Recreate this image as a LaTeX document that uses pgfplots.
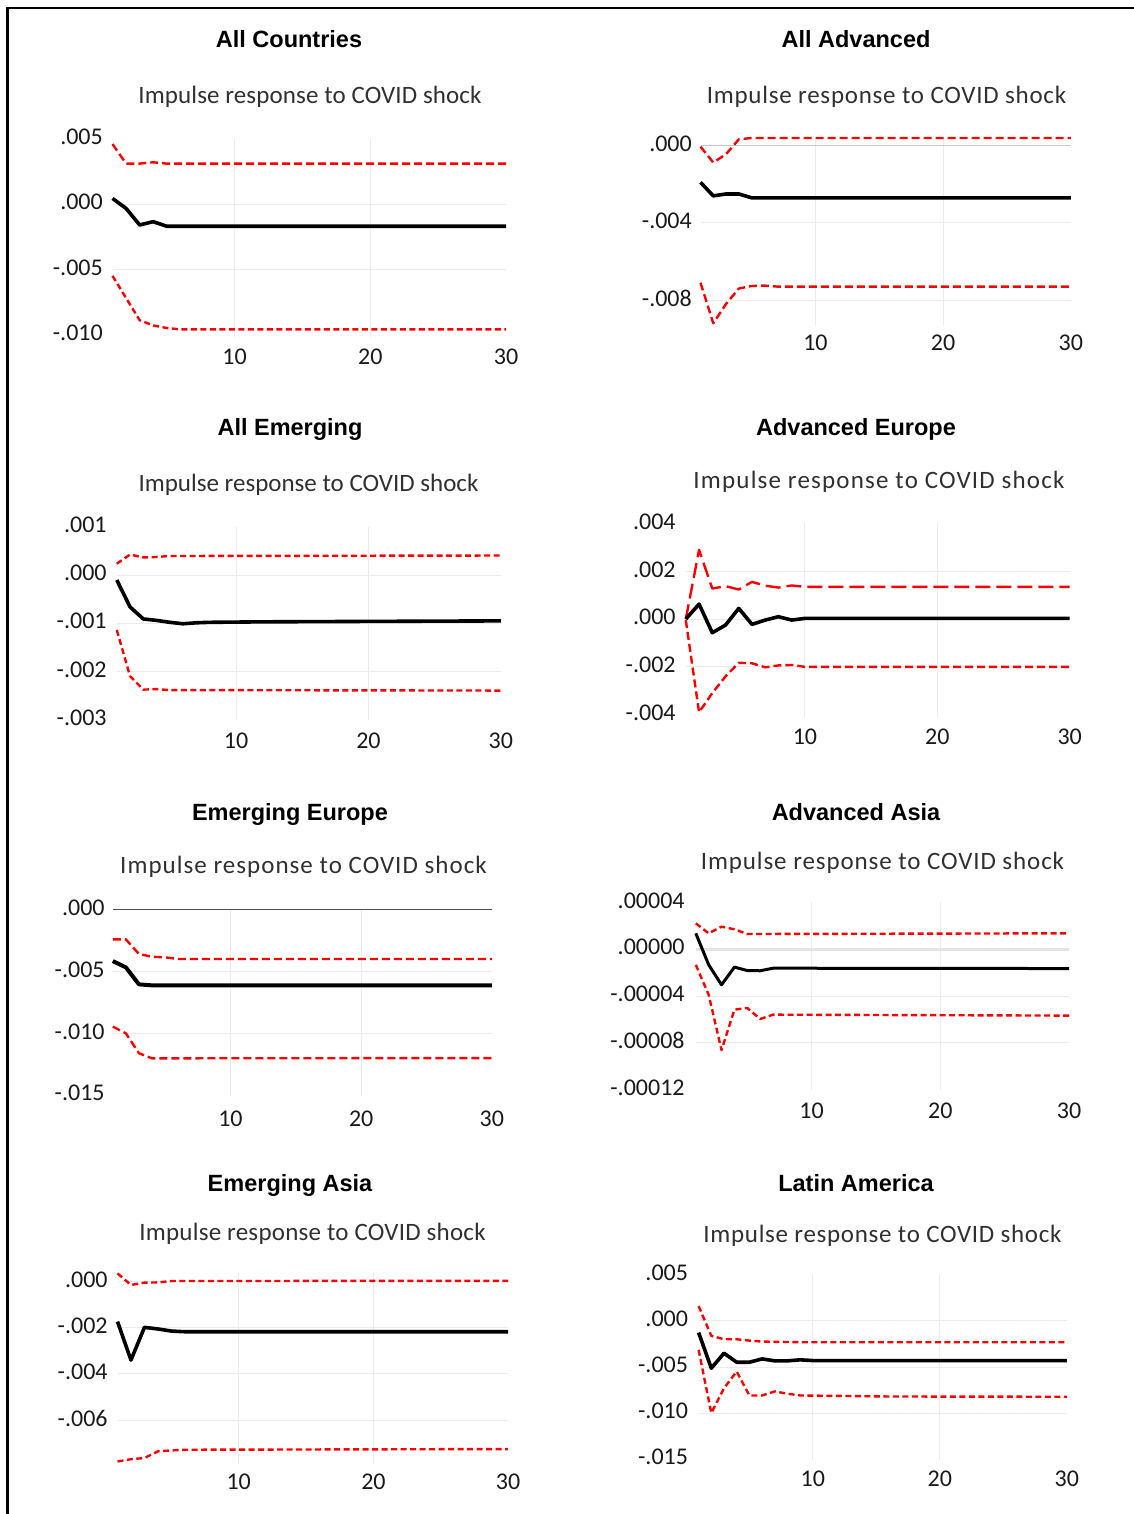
\documentclass[border=0pt]{standalone}
\usepackage{fontspec}
\setmainfont{Carlito}
\newfontfamily\arialf{Liberation Sans}
\usepackage{pgfplots}
\pgfplotsset{compat=1.18}
\definecolor{gridc}{HTML}{EBEBEB}
\definecolor{txt}{HTML}{1A1A1A}
\definecolor{subc}{HTML}{303030}
\newcommand\titlef{\arialf\bfseries\fontsize{23.5}{26}\selectfont}
\newcommand\subt[1]{{\color{subc}\fontsize{25}{25}\selectfont\addfontfeature{LetterSpace=#1}Impulse response to COVID shock}}
\pgfplotsset{
  irf/.style={
    scale only axis,
    xmin=1, xmax=30,
    axis line style={draw=none},
    tick style={draw=none},
    major tick length=0pt,
    scaled y ticks=false,
    scaled x ticks=false,
    xtick={10,20,30},
    xticklabels={10,20,30},
    ticklabel style={font=\fontsize{24}{26}\selectfont, text=txt, inner sep=0pt},
    xticklabel style={anchor=north},
    yticklabel style={anchor=east, yshift=2pt},
    extra x ticks={10,20},
    extra x tick labels={},
    extra x tick style={xmajorgrids=true},
    extra y tick labels={},
    extra y tick style={ymajorgrids=true},
    major grid style={gridc, line width=1pt},
    clip=false,
  },
  up/.style={red, line width=2.4pt, dash pattern=on 8pt off 4pt, line join=round},
  lo/.style={red, line width=2.4pt, dash pattern=on 6pt off 3.5pt, line join=round},
  mid/.style={black, line width=3.6pt, line join=round},
}
\begin{document}
\begin{tikzpicture}[x=1pt,y=1pt]
\path[use as bounding box] (0,0) rectangle (1134,1514);
\draw[line width=2.6pt] (7.5,-2) -- (7.5,1506) -- (1136,1506);

% titles
\node[anchor=base, font=\titlef] at (289,1466) {All Countries};
\node[anchor=base, font=\titlef] at (856,1466) {All Advanced};
\node[anchor=base, font=\titlef] at (290,1078) {All Emerging};
\node[anchor=base, font=\titlef] at (856,1078) {Advanced Europe};
\node[anchor=base, font=\titlef] at (290,693) {Emerging Europe};
\node[anchor=base, font=\titlef] at (856,693) {Advanced Asia};
\node[anchor=base, font=\titlef] at (290,322) {Emerging Asia};
\node[anchor=base, font=\titlef] at (856,322) {Latin America};
% subtitles
\node[anchor=base, inner sep=0pt] at (310,1410) {\subt{0.5}};
\node[anchor=base, inner sep=0pt] at (886.5,1410) {\subt{3}};
\node[anchor=base, inner sep=0pt] at (308.5,1022) {\subt{0}};
\node[anchor=base, inner sep=0pt] at (879,1025) {\subt{4.8}};
\node[anchor=base, inner sep=0pt] at (303.5,640) {\subt{4.1}};
\node[anchor=base, inner sep=0pt] at (882.5,644) {\subt{3.6}};
\node[anchor=base, inner sep=0pt] at (312.5,273) {\subt{1}};
\node[anchor=base, inner sep=0pt] at (882.5,271) {\subt{2.8}};

% P1 All Countries
\begin{axis}[irf, at={(112.5pt,1176.8pt)}, anchor=south west,
  width=393.5pt, height=198.5pt, ymin=-0.0102, ymax=0.00501,
  ytick={-0.010,-0.005,0,0.005}, yticklabels={-.010,-.005,.000,.005},
  extra y ticks={-0.005,0},
  yticklabel style={xshift=-9.5pt}, xticklabel style={yshift=-11.2pt}]
\addplot[up] coordinates {(1,0.0046)(2,0.0031)(3,0.0031)(4,0.0032)(5,0.0031)(30,0.0031)};
\addplot[mid] coordinates {(1,0.00043)(2,-0.00033)(3,-0.0016)(4,-0.00135)(5,-0.0017)(30,-0.0017)};
\addplot[lo] coordinates {(1,-0.0055)(2,-0.0072)(3,-0.0089)(4,-0.0093)(5,-0.0095)(6,-0.0096)(30,-0.0096)};
\end{axis}

% P2 All Advanced
\begin{axis}[irf, at={(700.5pt,1188.8pt)}, anchor=south west,
  width=370.3pt, height=187.2pt, ymin=-0.0093, ymax=0.0004,
  ytick={-0.008,-0.004,0}, yticklabels={-.008,-.004,.000},
  extra y ticks={-0.008,-0.004},
  yticklabel style={xshift=-8.5pt}, xticklabel style={yshift=-9.2pt}]
\draw[color={rgb,255:red,200;green,200;blue,200}, line width=1.5pt] (axis cs:1,0) -- (axis cs:30,0);
\addplot[up] coordinates {(1,-0.00005)(2,-0.00087)(3,-0.00044)(4,0.00033)(5,0.0004)(30,0.0004)};
\addplot[mid] coordinates {(1,-0.0019)(2,-0.0026)(3,-0.0025)(4,-0.0025)(5,-0.0027)(30,-0.0027)};
\addplot[red, line width=2.4pt, dash pattern=on 8pt off 4pt, line join=round] coordinates {(1,-0.0071)(2,-0.0092)(3,-0.0082)(4,-0.0074)(5,-0.00727)(6,-0.00725)(7,-0.0073)(30,-0.0073)};
\end{axis}

% P3 All Emerging
\begin{axis}[irf, at={(116.8pt,794.1pt)}, anchor=south west,
  width=384.1pt, height=193.2pt, ymin=-0.00301, ymax=0.00101,
  ytick={-0.003,-0.002,-0.001,0,0.001}, yticklabels={-.003,-.002,-.001,.000,.001},
  extra y ticks={-0.002,-0.001,0},
  yticklabel style={xshift=-10pt}, xticklabel style={yshift=-12.4pt}]
\addplot[lo] coordinates {(1,0.00024)(2,0.00043)(3,0.00037)(4,0.00038)(5,0.0004)(30,0.00041)};
\addplot[mid] coordinates {(1,-0.0001)(2,-0.00066)(3,-0.00091)(4,-0.00094)(5,-0.00098)(6,-0.00101)(7,-0.00099)(8,-0.00098)(12,-0.00097)(30,-0.00095)};
\addplot[lo] coordinates {(1,-0.00114)(2,-0.0021)(3,-0.00238)(4,-0.00237)(5,-0.00239)(30,-0.0024)};
\end{axis}

% P4 Advanced Europe
\begin{axis}[irf, at={(685.8pt,797pt)}, anchor=south west,
  width=383.9pt, height=193.6pt, ymin=-0.0041, ymax=0.00401,
  ytick={-0.004,-0.002,0,0.002,0.004}, yticklabels={-.004,-.002,.000,.002,.004},
  extra y ticks={-0.002,0,0.002},
  yticklabel style={xshift=-10pt}, xticklabel style={yshift=-12pt}]
\addplot[red, line width=2.4pt, dash pattern=on 15pt off 6pt, line join=round] coordinates {(1,0)(2,0.0029)(3,0.00128)(4,0.00138)(5,0.00124)(6,0.00156)(7,0.0014)(8,0.00132)(9,0.00141)(10,0.00135)(30,0.00135)};
\addplot[mid] coordinates {(1,0)(2,0.00063)(3,-0.00057)(4,-0.00025)(5,0.00045)(6,-0.00022)(7,-0.00004)(8,0.0001)(9,-0.00004)(10,0.00003)(30,0.00003)};
\addplot[red, line width=2.4pt, dash pattern=on 8pt off 4pt, line join=round] coordinates {(1,-0.00004)(2,-0.0039)(3,-0.0031)(4,-0.0024)(5,-0.00183)(6,-0.00185)(7,-0.00202)(8,-0.00194)(9,-0.00192)(10,-0.002)(30,-0.002)};
\end{axis}

% P5 Emerging Europe
\begin{axis}[irf, at={(112.8pt,417.5pt)}, anchor=south west,
  width=379.1pt, height=187.2pt, ymin=-0.0151, ymax=0.00001,
  ytick={-0.015,-0.010,-0.005,0}, yticklabels={-.015,-.010,-.005,.000},
  extra y ticks={-0.010,-0.005},
  yticklabel style={xshift=-8pt}, xticklabel style={yshift=-14pt}]
\draw[color={rgb,255:red,80;green,80;blue,80}, line width=1.3pt] (axis cs:1,0) -- (axis cs:30,0);
\addplot[up] coordinates {(1,-0.00242)(2,-0.00242)(3,-0.0036)(4,-0.00382)(5,-0.00387)(6,-0.004)(30,-0.004)};
\addplot[black, line width=4pt, line join=round] coordinates {(1,-0.00417)(2,-0.00468)(3,-0.00605)(4,-0.00613)(30,-0.00613)};
\addplot[up] coordinates {(1,-0.00946)(2,-0.0100)(3,-0.01161)(4,-0.01202)(30,-0.0120)};
\end{axis}

% P6 Advanced Asia
\begin{axis}[irf, at={(695.8pt,423.7pt)}, anchor=south west,
  width=373.2pt, height=188pt, ymin=-0.0001205, ymax=0.0000401,
  ytick={-0.00012,-0.00008,-0.00004,0,0.00004}, yticklabels={-.00012,-.00008,-.00004,.00000,.00004},
  extra y ticks={-0.00008,-0.00004},
  yticklabel style={xshift=-11pt}, xticklabel style={yshift=-12pt}]
\draw[color={rgb,255:red,228;green,228;blue,228}, line width=3pt] (axis cs:1,0) -- (axis cs:30,0);
\addplot[lo] coordinates {(1,0.0000221)(2,0.0000136)(3,0.0000193)(4,0.000017)(5,0.000013)(30,0.0000136)};
\addplot[black, line width=3pt, line join=round] coordinates {(1,0.0000136)(2,-0.0000133)(3,-0.0000304)(4,-0.0000153)(5,-0.0000182)(6,-0.0000184)(7,-0.0000162)(30,-0.0000165)};
\addplot[lo] coordinates {(1,-0.0000133)(2,-0.0000389)(3,-0.0000862)(4,-0.0000516)(5,-0.0000502)(6,-0.0000596)(7,-0.0000559)(30,-0.0000567)};
\end{axis}

% P7 Emerging Asia
\begin{axis}[irf, at={(117.5pt,50.2pt)}, anchor=south west,
  width=390.6pt, height=191.3pt, ymin=-0.0079, ymax=0.0004,
  ytick={-0.006,-0.004,-0.002,0}, yticklabels={-.006,-.004,-.002,.000},
  extra y ticks={-0.006,-0.004,-0.002,0},
  yticklabel style={xshift=-9.7pt}, xticklabel style={yshift=-10.3pt}]
\addplot[lo] coordinates {(1,0.00036)(2,-0.00014)(3,-0.00004)(4,-0.00003)(5,0.00003)(30,0.00004)};
\addplot[mid] coordinates {(1,-0.00173)(2,-0.0034)(3,-0.00198)(4,-0.00205)(5,-0.00214)(6,-0.00217)(30,-0.00217)};
\addplot[lo] coordinates {(1,-0.0078)(2,-0.0077)(3,-0.00765)(4,-0.00736)(5,-0.00732)(6,-0.00729)(30,-0.00726)};
\end{axis}

% P8 Latin America
\begin{axis}[irf, at={(698.6pt,54.4pt)}, anchor=south west,
  width=368.2pt, height=184.8pt, ymin=-0.01505, ymax=0.00501,
  ytick={-0.015,-0.010,-0.005,0,0.005}, yticklabels={-.015,-.010,-.005,.000,.005},
  extra y ticks={-0.010,-0.005,0},
  yticklabel style={xshift=-10.4pt}, xticklabel style={yshift=-11pt}]
\addplot[lo] coordinates {(1,0.00162)(2,-0.00162)(3,-0.00199)(4,-0.00199)(5,-0.00213)(6,-0.00224)(9,-0.00231)(30,-0.00231)};
\addplot[mid] coordinates {(1,-0.00126)(2,-0.00513)(3,-0.0035)(4,-0.00448)(5,-0.00448)(6,-0.00412)(7,-0.00433)(8,-0.00433)(9,-0.00422)(10,-0.0043)(30,-0.0043)};
\addplot[lo] coordinates {(1,-0.00314)(2,-0.0100)(3,-0.0073)(4,-0.00549)(5,-0.00809)(6,-0.00809)(7,-0.00765)(8,-0.0079)(9,-0.00809)(16,-0.0082)(30,-0.00823)};
\end{axis}
\end{tikzpicture}
\end{document}
